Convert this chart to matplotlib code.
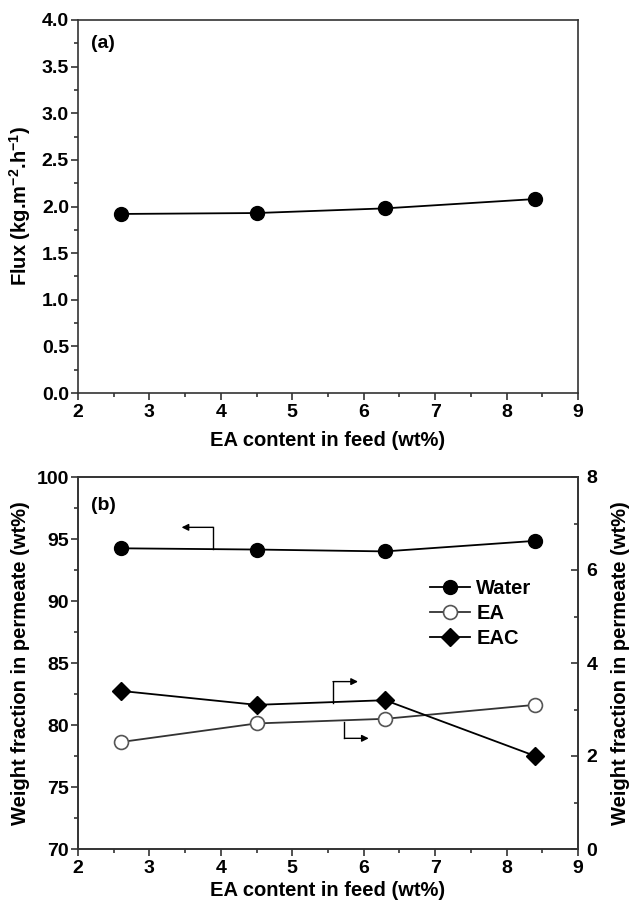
import matplotlib
matplotlib.use("Agg")
import matplotlib.pyplot as plt
from matplotlib.ticker import MultipleLocator, FormatStrFormatter

plt.rcParams['font.family'] = ['Liberation Sans', 'DejaVu Sans']
plt.rcParams['font.weight'] = 'bold'
plt.rcParams['mathtext.fontset'] = 'custom'
plt.rcParams['mathtext.rm'] = 'Liberation Sans:bold'
plt.rcParams['mathtext.it'] = 'Liberation Sans:bold'
plt.rcParams['mathtext.bf'] = 'Liberation Sans:bold'
plt.rcParams['mathtext.default'] = 'bf'

ea_feed = [2.6, 4.5, 6.3, 8.4]
flux = [1.92, 1.93, 1.98, 2.08]
water = [94.25, 94.15, 94.0, 94.85]
ea_perm = [2.3, 2.7, 2.8, 3.1]
eac_perm = [3.4, 3.1, 3.2, 2.0]

W, H = 637, 909
fig = plt.figure(figsize=(W/100, H/100), dpi=100)

def ax_rect(l, t, r, b):
    return [l/W, 1-b/H, (r-l)/W, (b-t)/H]

lc = '#333333'
tick_fs = 14
lab_fs = 14.5

def style_axes(ax):
    for s in ax.spines.values():
        s.set_linewidth(1.2)
        s.set_color(lc)
    ax.tick_params(which='both', direction='out', width=1.2, color=lc, labelsize=tick_fs)
    ax.tick_params(which='major', length=5)
    ax.tick_params(which='minor', length=3)
    ax.tick_params(axis='y', pad=1.5)
    ax.tick_params(axis='x', pad=3)
    ax.tick_params(top=False, right=False, which='both')
    for lab in ax.get_xticklabels() + ax.get_yticklabels():
        lab.set_fontweight('bold')

# Panel (a)
ax1 = fig.add_axes(ax_rect(78, 20, 578, 393))
ax1.plot(ea_feed, flux, '-o', color='black', lw=1.3, ms=10)
ax1.set_xlim(2, 9)
ax1.set_ylim(0, 4.0)
ax1.xaxis.set_major_locator(MultipleLocator(1))
ax1.xaxis.set_minor_locator(MultipleLocator(0.5))
ax1.yaxis.set_major_locator(MultipleLocator(0.5))
ax1.yaxis.set_minor_locator(MultipleLocator(0.25))
ax1.yaxis.set_major_formatter(FormatStrFormatter('%.1f'))
style_axes(ax1)
ax1.set_xlabel('EA content in feed (wt%)', fontsize=lab_fs, fontweight='bold', labelpad=7)
ax1.set_ylabel(r'Flux (kg.m$^{-2}$.h$^{-1}$)', fontsize=lab_fs, fontweight='bold', labelpad=6)
ax1.text(0.025, 0.96, '(a)', transform=ax1.transAxes, fontsize=14, fontweight='bold', va='top')

# Panel (b)
ax2 = fig.add_axes(ax_rect(78, 477, 578, 849))
l_w, = ax2.plot(ea_feed, water, '-o', color='black', lw=1.3, ms=10, label='Water')
ax2.set_xlim(2, 9)
ax2.set_ylim(70, 100)
ax2.xaxis.set_major_locator(MultipleLocator(1))
ax2.xaxis.set_minor_locator(MultipleLocator(0.5))
ax2.yaxis.set_major_locator(MultipleLocator(5))
ax2.yaxis.set_minor_locator(MultipleLocator(2.5))
style_axes(ax2)
ax2.set_xlabel('EA content in feed (wt%)', fontsize=lab_fs, fontweight='bold', labelpad=3)
ax2.set_ylabel('Weight fraction in permeate (wt%)', fontsize=lab_fs, fontweight='bold', labelpad=5)
ax2.text(0.025, 0.945, '(b)', transform=ax2.transAxes, fontsize=14, fontweight='bold', va='top')

ax3 = ax2.twinx()
l_ea, = ax3.plot(ea_feed, ea_perm, '-o', color='#333333', lw=1.3, ms=10, mfc='white', mec='#555555', mew=1.2, label='EA')
l_eac, = ax3.plot(ea_feed, eac_perm, '-D', color='black', lw=1.3, ms=9, label='EAC')
ax3.set_ylim(0, 8)
ax3.yaxis.set_major_locator(MultipleLocator(2))
ax3.yaxis.set_minor_locator(MultipleLocator(1))
for s in ax3.spines.values():
    s.set_linewidth(1.2)
    s.set_color(lc)
ax3.tick_params(which='both', direction='in', width=1.2, color=lc, labelsize=tick_fs, pad=6)
ax3.tick_params(which='major', length=5)
ax3.tick_params(which='minor', length=3)
for lab in ax3.get_yticklabels():
    lab.set_fontweight('bold')
ax3.set_ylabel('Weight fraction in permeate (wt%)', fontsize=lab_fs, fontweight='bold', labelpad=10)

# Indicator arrows
akw = dict(arrowstyle='-|>', color='black', lw=1.0, mutation_scale=10, shrinkA=0, shrinkB=0)
ax2.plot([3.89, 3.89], [94.2, 95.94], color='black', lw=1.0)
ax2.annotate('', xy=(3.45, 95.94), xytext=(3.89, 95.94), arrowprops=akw)
ax3.plot([5.57, 5.57], [3.15, 3.6], color='black', lw=1.0)
ax3.annotate('', xy=(5.92, 3.6), xytext=(5.57, 3.6), arrowprops=akw)
ax3.plot([5.73, 5.73], [2.74, 2.38], color='black', lw=1.0)
ax3.annotate('', xy=(6.07, 2.38), xytext=(5.73, 2.38), arrowprops=akw)

leg = ax3.legend(handles=[l_w, l_ea, l_eac], loc='upper left', bbox_to_anchor=(0.704, 0.725),
                 frameon=False, fontsize=14.5, handlelength=2.0, handletextpad=0.3,
                 labelspacing=0.3, borderaxespad=0, borderpad=0)
for t in leg.get_texts():
    t.set_fontweight('bold')

fig.savefig('out.png', dpi=100)
